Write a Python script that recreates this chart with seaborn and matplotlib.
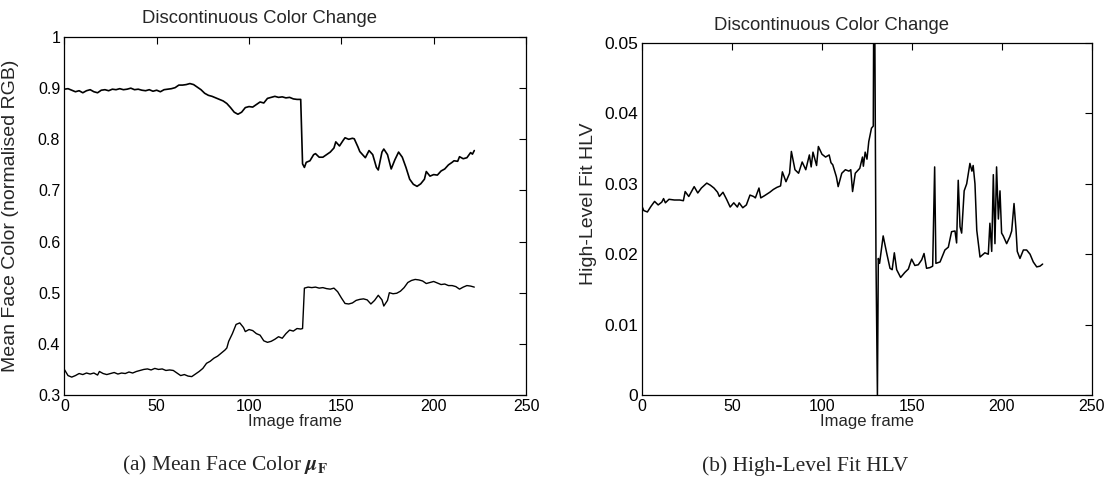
import numpy as np
import pandas as pd
import matplotlib
matplotlib.use("Agg")
import matplotlib.pyplot as plt
import seaborn as sns

# ---------------- data ----------------
# (a) Mean face colour: upper trace
frames_upper = [0, 2, 4, 6, 8, 10, 12, 14, 16, 18, 20, 22, 24, 26, 28, 30, 32, 34, 36, 38,
                40, 42, 44, 46, 48, 50, 52, 54, 56, 58, 60, 62, 64, 66, 68, 70, 72, 74, 76, 78,
                80, 82, 84, 86, 88, 90, 92, 94, 96, 98, 100, 102, 104, 106, 108, 110, 112, 114,
                116, 118, 120, 122, 124, 126, 128, 129, 130, 131, 133, 135, 136, 138, 140, 142,
                144, 146, 147, 149, 151, 152, 154, 156, 157, 159, 160, 162, 163, 165, 167, 169,
                170, 172, 173, 175, 177, 179, 181, 183, 185, 187, 189, 191, 193, 195, 196, 198,
                200, 202, 204, 206, 208, 210, 211, 213, 214, 216, 218, 220, 221, 222]
upper_vals = [0.898, 0.899, 0.896, 0.893, 0.895, 0.891, 0.895, 0.897, 0.893, 0.891, 0.896,
              0.897, 0.895, 0.898, 0.897, 0.899, 0.897, 0.898, 0.900, 0.897, 0.898, 0.896,
              0.895, 0.897, 0.894, 0.896, 0.893, 0.897, 0.898, 0.899, 0.901, 0.906, 0.906,
              0.907, 0.909, 0.907, 0.902, 0.897, 0.890, 0.886, 0.884, 0.881, 0.878, 0.875,
              0.870, 0.862, 0.853, 0.849, 0.853, 0.862, 0.864, 0.863, 0.868, 0.873, 0.871,
              0.880, 0.882, 0.884, 0.882, 0.883, 0.881, 0.882, 0.879, 0.878, 0.878, 0.752,
              0.745, 0.755, 0.758, 0.770, 0.772, 0.765, 0.765, 0.770, 0.775, 0.783, 0.795,
              0.787, 0.798, 0.803, 0.800, 0.802, 0.801, 0.785, 0.776, 0.768, 0.764, 0.778,
              0.770, 0.745, 0.740, 0.775, 0.781, 0.770, 0.742, 0.760, 0.775, 0.765, 0.745,
              0.722, 0.712, 0.708, 0.713, 0.722, 0.737, 0.728, 0.731, 0.730, 0.738, 0.742,
              0.750, 0.755, 0.758, 0.757, 0.766, 0.762, 0.764, 0.774, 0.771, 0.778]

# (a) Mean face colour: lower trace
frames_lower = [0, 2, 4, 6, 8, 10, 12, 14, 16, 18, 19, 21, 23, 25, 27, 29, 31, 33, 35, 37,
                39, 41, 43, 45, 47, 49, 51, 53, 55, 57, 59, 61, 63, 65, 67, 69, 71, 73, 75, 77,
                79, 81, 83, 85, 87, 88, 89, 91, 93, 95, 97, 98, 100, 102, 104, 106, 108, 110,
                112, 114, 116, 118, 120, 122, 124, 126, 128, 129, 130, 132, 134, 136, 138, 140,
                142, 144, 146, 148, 150, 152, 154, 156, 158, 160, 162, 164, 166, 168, 170, 172,
                173, 175, 176, 178, 180, 182, 184, 186, 188, 190, 192, 194, 196, 198, 200, 202,
                204, 206, 208, 210, 212, 214, 216, 218, 220, 222]
lower_vals = [0.350, 0.338, 0.335, 0.338, 0.342, 0.340, 0.343, 0.341, 0.343, 0.339, 0.346,
              0.342, 0.340, 0.342, 0.344, 0.341, 0.343, 0.342, 0.345, 0.343, 0.346, 0.348,
              0.350, 0.351, 0.349, 0.352, 0.350, 0.351, 0.348, 0.349, 0.348, 0.343, 0.338,
              0.340, 0.337, 0.336, 0.341, 0.346, 0.352, 0.362, 0.366, 0.372, 0.376, 0.382,
              0.388, 0.392, 0.405, 0.420, 0.438, 0.441, 0.432, 0.424, 0.428, 0.426, 0.420,
              0.417, 0.406, 0.403, 0.405, 0.409, 0.414, 0.411, 0.420, 0.427, 0.425, 0.430,
              0.429, 0.430, 0.509, 0.511, 0.510, 0.511, 0.509, 0.510, 0.508, 0.507, 0.509,
              0.502, 0.490, 0.479, 0.478, 0.480, 0.485, 0.487, 0.488, 0.486, 0.478, 0.485,
              0.495, 0.486, 0.474, 0.485, 0.500, 0.498, 0.499, 0.503, 0.510, 0.520, 0.524,
              0.526, 0.525, 0.523, 0.518, 0.520, 0.522, 0.519, 0.516, 0.517, 0.514, 0.514,
              0.512, 0.507, 0.511, 0.514, 0.513, 0.511]

# (b) High-level fit HLV
frames_hlv = [0, 1, 3, 5, 7, 9, 11, 12, 13, 15, 18, 21, 23, 24, 26, 29, 31, 33, 36, 38, 40,
              42, 43, 45, 47, 49, 51, 53, 54, 56, 58, 60, 62, 63, 65, 66, 68, 71, 73, 75, 77,
              78, 80, 82, 83, 85, 87, 89, 91, 93, 94, 95, 97, 98, 100, 102, 104, 105, 106,
              108, 109, 111, 113, 115, 116, 117, 118.5, 121, 122.5, 123, 124, 125, 126, 127.5,
              128.5, 129, 130, 130.8, 131.3, 132, 134, 136, 137.8, 139, 140.2, 141.5, 143.7,
              146, 148, 149.8, 151.6, 153.5, 155.4, 156.7, 158.1, 160, 161.5, 162.6, 163.3,
              165.6, 168.3, 170.2, 172, 173.9, 174.8, 175.7, 176.7, 177.6, 179, 180.4, 182.2,
              183.3, 184, 185, 186, 187.8, 190.5, 192.4, 193.3, 194.3, 195.2, 196.1, 197, 198,
              198.9, 199.8, 200.7, 202.6, 204.4, 205.4, 206.7, 207.8, 208.5, 210, 211.9,
              213.7, 215.6, 217.4, 219.3, 221.1, 222.6]
hlv_vals = [0.0268, 0.0262, 0.0260, 0.0268, 0.0275, 0.0270, 0.0274, 0.0279, 0.0273, 0.0278,
            0.0277, 0.0277, 0.0276, 0.0289, 0.0282, 0.0296, 0.0287, 0.0294, 0.0301, 0.0298,
            0.0294, 0.0288, 0.0282, 0.0288, 0.0278, 0.0267, 0.0273, 0.0267, 0.0273, 0.0266,
            0.0270, 0.0284, 0.0282, 0.0280, 0.0294, 0.0280, 0.0283, 0.0288, 0.0292, 0.0295,
            0.0297, 0.0317, 0.0303, 0.0315, 0.0346, 0.0320, 0.0315, 0.0331, 0.0320, 0.0341,
            0.0324, 0.0345, 0.0326, 0.0353, 0.0342, 0.0338, 0.0341, 0.0330, 0.0327, 0.0310,
            0.0296, 0.0315, 0.0320, 0.0318, 0.0320, 0.0289, 0.0315, 0.0322, 0.0338, 0.0325,
            0.0345, 0.0335, 0.0360, 0.0379, 0.0382, 0.0700, 0.0195, 0.0000, 0.0194, 0.0187,
            0.0226, 0.0201, 0.0180, 0.0178, 0.0202, 0.0178, 0.0167, 0.0174, 0.0179, 0.0193,
            0.0184, 0.0185, 0.0192, 0.0201, 0.0180, 0.0181, 0.0183, 0.0324, 0.0187, 0.0189,
            0.0206, 0.0210, 0.0232, 0.0233, 0.0216, 0.0305, 0.0239, 0.0230, 0.0290, 0.0300,
            0.0329, 0.0318, 0.0326, 0.0300, 0.0234, 0.0196, 0.0202, 0.0200, 0.0244, 0.0204,
            0.0313, 0.0215, 0.0324, 0.0250, 0.0290, 0.0230, 0.0226, 0.0215, 0.0225, 0.0233,
            0.0272, 0.0235, 0.0204, 0.0194, 0.0206, 0.0206, 0.0200, 0.0189, 0.0182, 0.0183,
            0.0186]

x_ticks = [0, 50, 100, 150, 200, 250]
yticks_a = [0.3, 0.4, 0.5, 0.6, 0.7, 0.8, 0.9, 1.0]
yticklabels_a = ["0.3", "0.4", "0.5", "0.6", "0.7", "0.8", "0.9", "1"]
yticks_b = [0.0, 0.01, 0.02, 0.03, 0.04, 0.05]
yticklabels_b = ["0", "0.01", "0.02", "0.03", "0.04", "0.05"]

# ---------------- style ----------------
sns.set_theme(style="white")
plt.rcParams["font.family"] = ["Liberation Sans", "DejaVu Sans"]
plt.rcParams["mathtext.fontset"] = "stix"
plt.rcParams["axes.edgecolor"] = "black"
plt.rcParams["axes.linewidth"] = 0.9

fig = plt.figure(figsize=(11.13, 4.91), dpi=100)
axL = fig.add_axes([0.0578, 0.1955, 0.4148, 0.7291])
axR = fig.add_axes([0.5768, 0.1955, 0.4043, 0.7169])

sns.lineplot(x=frames_upper, y=upper_vals, ax=axL, color="black", lw=1.2,
             estimator=None, sort=False)
sns.lineplot(x=frames_lower, y=lower_vals, ax=axL, color="black", lw=1.0,
             estimator=None, sort=False)
sns.lineplot(x=frames_hlv, y=hlv_vals, ax=axR, color="black", lw=1.1,
             estimator=None, sort=False)

for ax in (axL, axR):
    ax.set_xlim(0, 250)
    ax.set_xticks(x_ticks)
    ax.set_xticklabels([str(t) for t in x_ticks])
    ax.tick_params(direction="in", top=True, right=True, length=5, width=0.8,
                   colors="black", labelsize=11.5, pad=3)
    for s in ax.spines.values():
        s.set_visible(True)
        s.set_color("black")
    ax.set_xlabel("Image frame", fontsize=12, labelpad=0)
    ax.grid(False)

axL.set_ylim(0.3, 1.0)
axL.set_yticks(yticks_a)
axL.set_yticklabels(yticklabels_a)
axL.set_ylabel("Mean Face Color (normalised RGB)", fontsize=14)
axL.yaxis.set_label_coords(-0.098, 0.5)
axL.text(0.422, 1.052, "Discontinuous Color Change", transform=axL.transAxes,
         ha="center", va="center", fontsize=13.3)

axR.set_ylim(0, 0.05)
axR.set_yticks(yticks_b)
axR.set_yticklabels(yticklabels_b)
axR.tick_params(axis="y", labelsize=12.5)
axR.set_ylabel("High-Level Fit HLV", fontsize=14)
axR.yaxis.set_label_coords(-0.10, 0.543)
axR.text(0.422, 1.051, "Discontinuous Color Change", transform=axR.transAxes,
         ha="center", va="center", fontsize=13.3)

fig.text(0.202, 0.051, r"(a) Mean Face Color $\boldsymbol{\mu}_{\mathbf{F}}$",
         family="Liberation Serif", fontsize=15.5, ha="center", va="center")
fig.text(0.723, 0.051, "(b) High-Level Fit HLV",
         family="Liberation Serif", fontsize=15.5, ha="center", va="center")

fig.savefig("out.png", dpi=100)
